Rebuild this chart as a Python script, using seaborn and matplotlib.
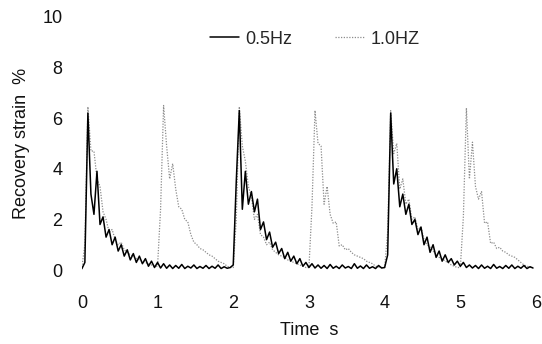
import numpy as np
import pandas as pd
import matplotlib
matplotlib.use("Agg")
import matplotlib.pyplot as plt
import seaborn as sns

# ---- data ----
dt = 0.04  # sampling interval, s

strain_05hz = [
    # cycle 1 (0.00 - 1.96 s)
    0.05, 0.3, 6.2, 3.0, 2.2, 3.9, 1.8, 2.1, 1.3, 1.6,
    1.0, 1.3, 0.75, 1.0, 0.55, 0.8, 0.4, 0.65, 0.3, 0.55,
    0.25, 0.45, 0.15, 0.35, 0.1, 0.3, 0.08, 0.25, 0.07, 0.2,
    0.06, 0.18, 0.07, 0.22, 0.06, 0.15, 0.08, 0.2, 0.06, 0.14,
    0.07, 0.18, 0.06, 0.15, 0.07, 0.2, 0.06, 0.13, 0.07, 0.1,
    # cycle 2 (2.00 - 3.96 s)
    0.2, 3.5, 6.3, 2.4, 3.9, 2.6, 3.1, 2.3, 2.8, 1.6,
    1.9, 1.2, 1.5, 0.9, 1.1, 0.65, 0.85, 0.45, 0.7, 0.35,
    0.55, 0.25, 0.45, 0.15, 0.3, 0.1, 0.25, 0.08, 0.2, 0.07,
    0.18, 0.06, 0.22, 0.07, 0.15, 0.06, 0.2, 0.08, 0.14, 0.06,
    0.25, 0.07, 0.16, 0.06, 0.2, 0.07, 0.13, 0.06, 0.18, 0.08,
    # cycle 3 (4.00 - 5.96 s)
    0.1, 0.6, 6.2, 3.4, 4.0, 2.5, 3.0, 2.2, 2.6, 1.8,
    2.0, 1.4, 1.7, 1.0, 1.3, 0.7, 1.0, 0.5, 0.75, 0.35,
    0.6, 0.3, 0.45, 0.2, 0.35, 0.15, 0.3, 0.1, 0.2, 0.08,
    0.18, 0.06, 0.2, 0.07, 0.15, 0.06, 0.22, 0.07, 0.14, 0.06,
    0.18, 0.07, 0.2, 0.06, 0.15, 0.07, 0.18, 0.06, 0.13, 0.08,
]

strain_10hz = [
    # 0 s
    0.1, 1.0, 6.45, 4.7, 4.7, 3.6, 3.3, 2.3, 2.0, 1.5,
    1.6, 1.2, 1.0, 1.1, 0.8, 0.7, 0.6, 0.55, 0.45, 0.4,
    0.35, 0.3, 0.25, 0.2, 0.15,
    # 1 s
    0.15, 2.4, 6.5, 4.9, 3.6, 4.2, 3.2, 2.5, 2.4, 2.0,
    1.9, 1.4, 1.1, 1.0, 0.85, 0.8, 0.7, 0.6, 0.55, 0.45,
    0.35, 0.3, 0.25, 0.15, 0.1,
    # 2 s
    0.1, 2.0, 6.45, 4.9, 4.3, 3.3, 2.9, 2.0, 2.2, 1.4,
    1.3, 1.0, 1.1, 0.8, 0.7, 0.6, 0.55, 0.5, 0.4, 0.35,
    0.3, 0.25, 0.2, 0.15, 0.1,
    # 3 s
    0.1, 2.5, 6.3, 5.0, 4.9, 2.6, 3.3, 2.2, 1.85, 1.9,
    0.95, 1.0, 0.8, 0.85, 0.7, 0.6, 0.55, 0.5, 0.45, 0.35,
    0.3, 0.25, 0.15, 0.12, 0.1,
    # 4 s
    0.1, 1.5, 6.3, 4.6, 5.0, 3.2, 3.6, 2.6, 2.8, 2.0,
    2.1, 1.6, 1.7, 1.2, 1.0, 0.9, 0.75, 0.6, 0.5, 0.45,
    0.35, 0.3, 0.2, 0.15, 0.1,
    # 5 s
    0.1, 2.1, 6.4, 3.6, 5.05, 3.3, 2.8, 3.1, 1.85, 1.9,
    1.05, 1.1, 0.85, 0.9, 0.75, 0.7, 0.6, 0.55, 0.5, 0.4,
    0.3, 0.2, 0.15, 0.12, 0.1,
]

series_names = ["0.5Hz", "1.0HZ"]
x_ticks = [0, 1, 2, 3, 4, 5, 6]
y_ticks = [0, 2, 4, 6, 8, 10]

df05 = pd.DataFrame({"Time": np.arange(len(strain_05hz)) * dt,
                     "Strain": strain_05hz, "Series": series_names[0]})
df10 = pd.DataFrame({"Time": np.arange(len(strain_10hz)) * dt,
                     "Strain": strain_10hz, "Series": series_names[1]})

# ---- plot ----
sns.set_style("white")
plt.rcParams["font.family"] = ["Liberation Sans", "DejaVu Sans"]

fig = plt.figure(figsize=(5.42, 3.44), dpi=100)
ax = fig.add_axes([0.151, 0.215, 0.838, 0.736])

sns.lineplot(data=df10, x="Time", y="Strain", ax=ax, color="#8c8c8c",
             linewidth=0.9, linestyle=(0, (1, 1.2)), label=series_names[1],
             zorder=2)
sns.lineplot(data=df05, x="Time", y="Strain", ax=ax, color="black",
             linewidth=1.1, label=series_names[0], zorder=3)

ax.set_xlim(0, 6)
ax.set_ylim(0, 10)
ax.set_xticks(x_ticks)
ax.set_yticks(y_ticks)
ax.tick_params(axis="both", length=0, labelsize=13, colors="#111111")
ax.tick_params(axis="x", pad=18)
ax.tick_params(axis="y", pad=14)
for s in ax.spines.values():
    s.set_visible(False)

ax.set_xlabel("Time  s", fontsize=13, color="#111111")
ax.xaxis.set_label_coords(0.50, -0.205)
ax.set_ylabel("Recovery strain  %", fontsize=13, color="#111111")
ax.yaxis.set_label_coords(-0.115, 0.50)

handles, labels = ax.get_legend_handles_labels()
order = [labels.index(series_names[0]), labels.index(series_names[1])]
ax.legend([handles[i] for i in order], [labels[i] for i in order],
          loc="center", bbox_to_anchor=(0.513, 0.912), ncol=2, frameon=False,
          fontsize=13, handlelength=1.6, handletextpad=0.35,
          columnspacing=2.4)

fig.savefig("out.png", dpi=100)
